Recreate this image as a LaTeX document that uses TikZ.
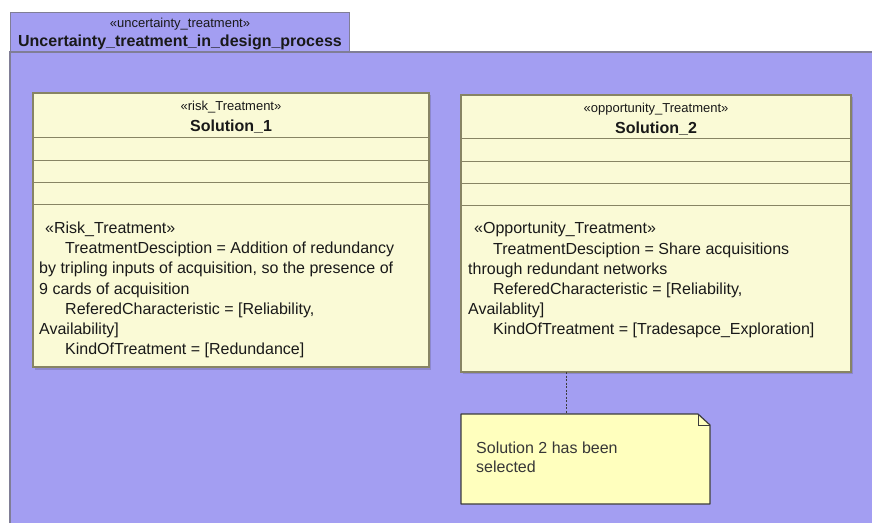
\documentclass[tikz,border=0pt]{standalone}
\usepackage{fontspec}
\setmainfont{Liberation Sans}
\usetikzlibrary{calc}
\definecolor{framefill}{RGB}{163,158,242}
\definecolor{frameline}{RGB}{128,126,150}
\definecolor{classfill}{RGB}{250,250,214}
\definecolor{classline}{RGB}{135,132,100}
\definecolor{shadowc}{RGB}{140,135,205}
\definecolor{notefill}{RGB}{255,255,190}
\definecolor{noteline}{RGB}{60,60,60}
\definecolor{txt}{RGB}{25,25,25}
\begin{document}
\begin{tikzpicture}[x=1pt,y=-1pt,
  classbox/.style={draw=classline, fill=classfill, line width=1.2pt, anchor=north west, inner sep=0pt, outer sep=0pt},
  body/.style={anchor=base west, inner sep=0pt, font=\fontsize{16}{20}\selectfont, text=txt},
  stereo/.style={anchor=base, inner sep=0pt, font=\fontsize{13}{15}\selectfont, text=txt},
  titletext/.style={anchor=base, inner sep=0pt, font=\fontsize{16}{19}\selectfont\bfseries, text=txt},
  sepline/.style={draw=classline, line width=1pt},
  notetext/.style={anchor=base west, inner sep=0pt, font=\fontsize{16}{19}\selectfont, text={rgb,255:red,55;green,55;blue,55}}]
\useasboundingbox (0,0) rectangle (872,523);
\fill[white] (0,0) rectangle (872,523);
% frame
\fill[framefill] (10,52) rectangle (872,523);
\node[draw=frameline, fill=framefill, minimum width=339pt, minimum height=40pt, anchor=north west, inner sep=0pt, outer sep=0pt, line width=1pt] (tab) at (10,12) {};
\draw[frameline, line width=1.2pt] (10,523) -- (10,52) -- (872,52);
\node[stereo] (tabst) at (180,27) {«uncertainty\_treatment»};
\node[titletext] (tabtitle) at (180,46) {Uncertainty\_treatment\_in\_design\_process};

% Solution 1
\fill[shadowc] (35,95) rectangle (431,370);
\node[classbox, minimum width=396pt, minimum height=274pt] (s1) at (33,93) {};
\foreach \yy in {137,160,182,204} \draw[sepline] (s1.west |- 0,\yy) -- (s1.east |- 0,\yy);
\node[stereo] (s1st) at (231,110) {«risk\_Treatment»};
\node[titletext] (s1name) at (231,131) {Solution\_1};
\node[body] (s1a) at (45,233) {«Risk\_Treatment»};
\node[body] (s1b) at (65,253) {TreatmentDesciption = Addition of redundancy};
\node[body] (s1c) at (39,273) {by tripling inputs of acquisition, so the presence of};
\node[body] (s1d) at (39,294) {9 cards of acquisition};
\node[body] (s1e) at (65,314) {ReferedCharacteristic = [Reliability,};
\node[body] (s1f) at (39,334) {Availability]};
\node[body] (s1g) at (65,354) {KindOfTreatment = [Redundance]};

% Solution 2
\fill[shadowc] (463,97) rectangle (853,374);
\node[classbox, minimum width=390pt, minimum height=277pt] (s2) at (461,95) {};
\foreach \yy in {138,161,183,205} \draw[sepline] (s2.west |- 0,\yy) -- (s2.east |- 0,\yy);
\node[stereo] (s2st) at (656,112) {«opportunity\_Treatment»};
\node[titletext] (s2name) at (656,133) {Solution\_2};
\node[body] (s2a) at (474,233) {«Opportunity\_Treatment»};
\node[body] (s2b) at (493,254) {TreatmentDesciption = Share acquisitions};
\node[body] (s2c) at (468,274) {through redundant networks};
\node[body] (s2d) at (493,294) {ReferedCharacteristic = [Reliability,};
\node[body] (s2e) at (468,314) {Availablity]};
\node[body] (s2f) at (493,334) {KindOfTreatment = [Tradesapce\_Exploration]};

% Note
\node[inner sep=0pt, outer sep=0pt, minimum width=249pt, minimum height=90pt, anchor=north west] (note) at (461,414) {};
\filldraw[fill=notefill, draw=noteline, line width=1.2pt, line join=round]
  (note.north west) -- ($(note.north east)+(-12,0)$) -- ($(note.north east)+(0,11)$)
  -- (note.south east) -- (note.south west) -- cycle;
\draw[noteline, line width=1pt] ($(note.north east)+(-12,0)$) -- ($(note.north east)+(-12,11)$) -- ($(note.north east)+(0,11)$);
\node[notetext] (n1) at (476,453) {Solution 2 has been};
\node[notetext] (n2) at (476,472) {selected};

% connector
\coordinate (cx) at (566,0);
\draw[noteline, line width=0.9pt, dash pattern=on 2pt off 1.5pt] (cx |- s2.south) -- (cx |- note.north);
\end{tikzpicture}
\end{document}
